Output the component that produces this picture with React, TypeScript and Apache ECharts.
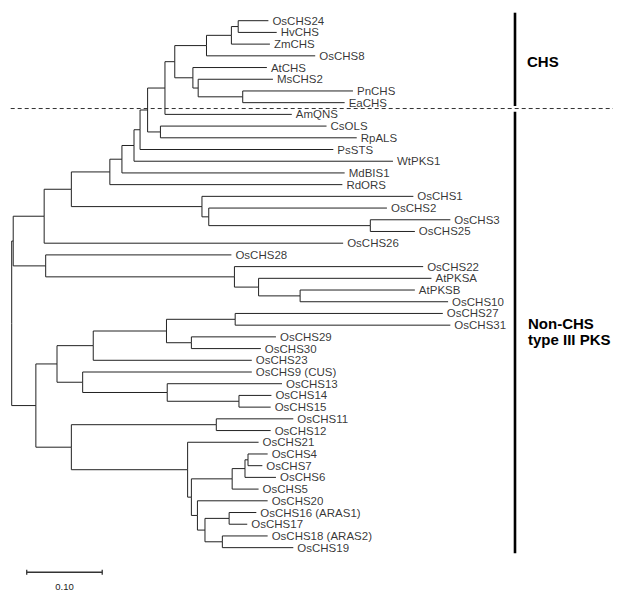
import React, { useEffect, useRef } from "react";
import * as echarts from "echarts";

// Tip labels, top to bottom
const leafNames = [
  "OsCHS24", "HvCHS", "ZmCHS", "OsCHS8", "AtCHS", "MsCHS2", "PnCHS", "EaCHS",
  "AmQNS", "CsOLS", "RpALS", "PsSTS", "WtPKS1", "MdBIS1", "RdORS",
  "OsCHS1", "OsCHS2", "OsCHS3", "OsCHS25", "OsCHS26", "OsCHS28",
  "OsCHS22", "AtPKSA", "AtPKSB", "OsCHS10", "OsCHS27", "OsCHS31",
  "OsCHS29", "OsCHS30", "OsCHS23", "OsCHS9 (CUS)", "OsCHS13", "OsCHS14",
  "OsCHS15", "OsCHS11", "OsCHS12", "OsCHS21", "OsCHS4", "OsCHS7", "OsCHS6",
  "OsCHS5", "OsCHS20", "OsCHS16 (ARAS1)", "OsCHS17", "OsCHS18 (ARAS2)", "OsCHS19",
];
// distance from root (substitutions per site) of each tip
const leafDepth = [
  0.340, 0.351, 0.342, 0.402, 0.338, 0.346, 0.452, 0.441,
  0.371, 0.417, 0.457, 0.426, 0.505, 0.441, 0.438,
  0.532, 0.497, 0.581, 0.534, 0.439, 0.291,
  0.545, 0.556, 0.534, 0.578, 0.571, 0.581,
  0.350, 0.330, 0.318, 0.318, 0.358, 0.344,
  0.343, 0.373, 0.343, 0.327, 0.339, 0.332, 0.350,
  0.327, 0.339, 0.324, 0.312, 0.339, 0.373,
];
// internal nodes
const nodeIds = [
  "R", "A", "C", "E", "F", "H", "I", "J", "K", "L", "N", "O", "Q", "S", "P", "T", "U", "M",
  "G", "V", "W", "D", "X", "Y", "Z",
  "B", "B1", "B3", "B5", "B6", "B7", "B4", "B8", "B9", "B2", "B10", "B11", "B12",
  "B13", "B15", "B16", "B14", "B17", "B18", "B19",
];
const nodeDepth = [
  0.000, 0.002, 0.043, 0.079, 0.130, 0.146, 0.162, 0.170, 0.180, 0.203, 0.216, 0.258, 0.291, 0.300, 0.240, 0.247, 0.306, 0.197,
  0.252, 0.261, 0.475, 0.045, 0.295, 0.327, 0.382,
  0.032, 0.060, 0.108, 0.205, 0.296, 0.238, 0.094, 0.206, 0.301, 0.079, 0.271, 0.233, 0.238,
  0.292, 0.309, 0.313, 0.246, 0.256, 0.288, 0.279,
];
const nodeKids: [string, string][] = [
  ["A", "B"], ["C", "D"], ["E", "OsCHS26"], ["F", "G"], ["H", "RdORS"], ["I", "MdBIS1"],
  ["J", "WtPKS1"], ["K", "PsSTS"], ["L", "M"], ["N", "AmQNS"], ["O", "P"], ["Q", "OsCHS8"],
  ["S", "ZmCHS"], ["OsCHS24", "HvCHS"], ["AtCHS", "T"], ["MsCHS2", "U"], ["PnCHS", "EaCHS"],
  ["CsOLS", "RpALS"],
  ["OsCHS1", "V"], ["OsCHS2", "W"], ["OsCHS3", "OsCHS25"], ["OsCHS28", "X"], ["OsCHS22", "Y"],
  ["AtPKSA", "Z"], ["AtPKSB", "OsCHS10"],
  ["B1", "B2"], ["B3", "B4"], ["B5", "OsCHS23"], ["B6", "B7"], ["OsCHS27", "OsCHS31"],
  ["OsCHS29", "OsCHS30"], ["OsCHS9 (CUS)", "B8"], ["OsCHS13", "B9"], ["OsCHS14", "OsCHS15"],
  ["B10", "B11"], ["OsCHS11", "OsCHS12"], ["OsCHS21", "B12"], ["B13", "B14"],
  ["B15", "OsCHS5"], ["B16", "OsCHS6"], ["OsCHS4", "OsCHS7"], ["OsCHS20", "B17"],
  ["B18", "B19"], ["OsCHS16 (ARAS1)", "OsCHS17"], ["OsCHS18 (ARAS2)", "OsCHS19"],
];
const scaleBarLength = 0.1;
const scaleBarLabel = "0.10";
const groupLabels = ["CHS", "Non-CHS\ntype III PKS"];

// layout constants
const W = 617;
const H = 593;
const PX_PER_UNIT = 755;
const ROOT_PX = 11.7;
const ROW_PX = 11.71;
const TOP_PX = 20.7;
const FONT = "'Liberation Sans', Arial, Helvetica, sans-serif";
const LINE_COLOR = "#222";

function buildTree() {
  const pos: Record<string, [number, number]> = {};
  leafNames.forEach((n, i) => (pos[n] = [leafDepth[i], i]));
  const kidsOf: Record<string, [string, string]> = {};
  const depthOf: Record<string, number> = {};
  nodeIds.forEach((id, i) => {
    kidsOf[id] = nodeKids[i];
    depthOf[id] = nodeDepth[i];
  });
  const resolve = (id: string): [number, number] => {
    if (pos[id]) return pos[id];
    const [a, b] = kidsOf[id];
    const pa = resolve(a);
    const pb = resolve(b);
    pos[id] = [depthOf[id], (pa[1] + pb[1]) / 2];
    return pos[id];
  };
  resolve("R");
  const segs: { coords: number[][] }[] = [];
  nodeIds.forEach((id) => {
    const p = pos[id];
    kidsOf[id].forEach((k) => {
      const c = pos[k];
      segs.push({ coords: [[p[0], p[1]], [p[0], c[1]], [c[0], c[1]]] });
    });
  });
  return segs;
}

export default function App() {
  const ref = useRef<HTMLDivElement>(null);
  useEffect(() => {
    document.body.style.margin = "0";
    const chart = echarts.init(ref.current!, null, { renderer: "svg" });
    const xMin = -ROOT_PX / PX_PER_UNIT;
    const xMax = xMin + W / PX_PER_UNIT;
    const yMin = -TOP_PX / ROW_PX;
    const yMax = yMin + H / ROW_PX;
    const segs = buildTree();
    chart.setOption({
      animation: false,
      backgroundColor: "#fff",
      grid: { left: 0, right: 0, top: 0, bottom: 0 },
      xAxis: { type: "value", min: xMin, max: xMax, show: false },
      yAxis: { type: "value", min: yMin, max: yMax, inverse: true, show: false },
      series: [
        {
          type: "lines",
          coordinateSystem: "cartesian2d",
          polyline: true,
          silent: true,
          data: segs,
          lineStyle: { color: LINE_COLOR, width: 1, opacity: 1 },
        },
        {
          type: "scatter",
          silent: true,
          symbolSize: 0,
          data: leafNames.map((n, i) => ({ name: n, value: [leafDepth[i], i] })),
          label: {
            show: true,
            position: "right",
            distance: 4,
            formatter: "{b}",
            fontSize: 11.5,
            fontFamily: FONT,
            color: "#000",
          },
        },
      ],
    });
    const toPx = (x: number, y: number) =>
      chart.convertToPixel({ gridIndex: 0 }, [x, y]) as number[];
    const sb0 = toPx(0.0199, 47.1);
    const sb1 = toPx(0.0199 + scaleBarLength, 47.1);
    const dashY = toPx(0, 7.5)[1];
    const barX = 515;
    chart.setOption({
      graphic: [
        {
          type: "line",
          shape: { x1: 10.7, y1: dashY, x2: 613, y2: dashY },
          style: { stroke: "#333", lineWidth: 1, lineDash: [4, 3] },
        },
        {
          type: "rect",
          shape: { x: barX - 1.3, y: 12.7, width: 2.6, height: 106 - 12.7 },
          style: { fill: "#000" },
        },
        {
          type: "rect",
          shape: { x: barX - 1.3, y: 111.7, width: 2.6, height: 553.3 - 111.7 },
          style: { fill: "#000" },
        },
        {
          type: "text",
          x: 527,
          y: 61.7,
          style: {
            text: groupLabels[0],
            font: `bold 15px ${FONT}`,
            fill: "#000",
            verticalAlign: "middle",
          },
        },
        {
          type: "text",
          x: 528,
          y: 331.3,
          style: {
            text: groupLabels[1],
            font: `bold 15px ${FONT}`,
            fill: "#000",
            lineHeight: 16,
            verticalAlign: "middle",
          },
        },
        {
          type: "line",
          shape: { x1: sb0[0], y1: sb0[1], x2: sb1[0], y2: sb1[1] },
          style: { stroke: "#333", lineWidth: 1.3 },
        },
        {
          type: "line",
          shape: { x1: sb0[0], y1: sb0[1] - 2.5, x2: sb0[0], y2: sb0[1] + 2.5 },
          style: { stroke: "#333", lineWidth: 1.3 },
        },
        {
          type: "line",
          shape: { x1: sb1[0], y1: sb1[1] - 2.5, x2: sb1[0], y2: sb1[1] + 2.5 },
          style: { stroke: "#333", lineWidth: 1.3 },
        },
        {
          type: "text",
          x: (sb0[0] + sb1[0]) / 2,
          y: 581.5,
          style: {
            text: scaleBarLabel,
            font: `9.5px ${FONT}`,
            fill: "#222",
            align: "center",
            verticalAlign: "top",
          },
        },
      ],
    });
    return () => chart.dispose();
  }, []);
  return <div ref={ref} style={{ width: W, height: H }} />;
}
